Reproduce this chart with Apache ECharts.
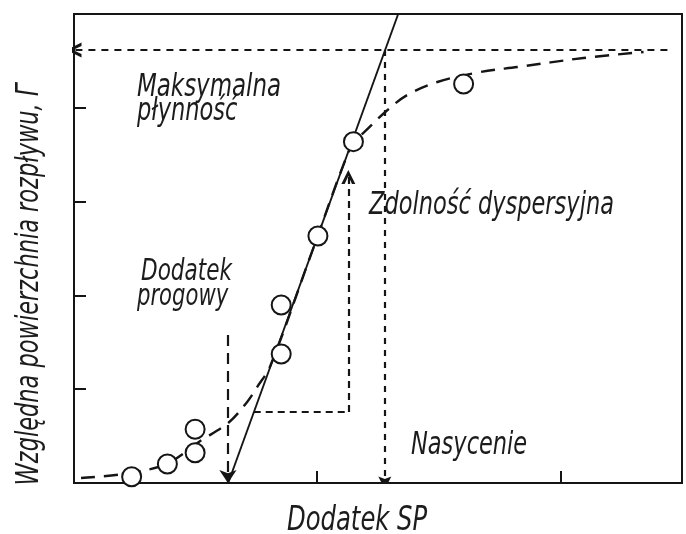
<!DOCTYPE html>
<html><head><meta charset="utf-8">
<script src="https://cdn.jsdelivr.net/npm/echarts@6/dist/echarts.min.js"></script>
<style>html,body{margin:0;padding:0;background:#fff}#c{width:686px;height:534px}</style>
</head><body><div id="c"></div>
<script>
// measured points (Dodatek SP, relative spread area)
const pointX = [0.237, 0.384, 0.498, 0.498, 0.852, 0.852, 1.003, 1.149, 1.602];
const pointY = [0.067, 0.203, 0.323, 0.573, 1.375, 1.898, 2.633, 3.639, 4.254];
// dashed fitted curve
const curveX = [0.029, 0.235, 0.387, 0.519, 0.634, 0.712, 0.753, 0.807, 0.980, 1.148, 1.189, 1.280, 1.370, 1.494, 1.671, 1.823, 2.095, 2.342];
const curveY = [0.053, 0.107, 0.213, 0.448, 0.640, 0.864, 1.023, 1.247, 2.475, 3.646, 3.731, 3.955, 4.136, 4.275, 4.382, 4.435, 4.531, 4.595];
// tangent (solid) line
const tangentX = [0.634, 1.333];
const tangentY = [0, 5];
// guide levels
const maxLevel = 4.616;      // maksymalna płynność
const saturationX = 1.278;   // nasycenie
const thresholdX = 0.633;    // dodatek progowy
const thresholdTop = 1.578;
const stepStart = [0.739, 0.757];
const stepCorner = [1.128, 0.757];
const stepTop = [1.128, 3.262];
const guideRightX = 2.44;
// texts
const xTitle = 'Dodatek SP';
const yTitle = 'Względna powierzchnia rozpływu, Γ';
const labels = ['Maksymalna', 'płynność', 'Zdolność dyspersyjna', 'Dodatek', 'progowy', 'Nasycenie'];

const FONT = '"Liberation Sans Narrow", "DejaVu Sans Condensed", "Arial Narrow", sans-serif';
const INK = '#151515';
const TXT = '#1c1c1c';
const SY = 1.28;
const chart = echarts.init(document.getElementById('c'), null, {renderer: 'canvas'});

const openArrow = 'path://M5,0 L10,14 L7.6,14 L5,6 L2.4,14 L0,14 Z';
const fillArrow = 'path://M5,0 L10,15 L5,12 L0,15 Z';

function seg(coords, dash, width, endSymbol, endSize) {
  return {
    type: 'lines', coordinateSystem: 'cartesian2d', z: 3,
    symbol: ['none', endSymbol || 'none'],
    symbolSize: [1, endSize || 10],
    lineStyle: {color: INK, width: width, type: dash, opacity: 1, cap: 'butt'},
    data: [{coords: coords}],
    silent: true
  };
}

function txt(text, x, y, size, align, rot) {
  return {
    type: 'text', x: x, y: y, silent: true, scaleY: SY, rotation: rot || 0,
    style: {text: text, font: 'italic ' + size + 'px ' + FONT, fill: TXT,
            textAlign: align || 'left', textVerticalAlign: 'middle', align: align || 'left', verticalAlign: 'middle'}
  };
}

const option = {
  animation: false,
  backgroundColor: '#fff',
  grid: {left: 74, right: 4, top: 14, bottom: 51, show: true, borderColor: INK, borderWidth: 2, backgroundColor: 'transparent'},
  xAxis: {
    type: 'value', min: 0, max: 2.5, interval: 1,
    axisLine: {show: true, lineStyle: {color: INK, width: 2}},
    axisTick: {show: true, inside: true, length: 12, lineStyle: {color: INK, width: 2}},
    axisLabel: {show: false}, splitLine: {show: false}
  },
  yAxis: {
    type: 'value', min: 0, max: 5, interval: 1,
    axisLine: {show: true, lineStyle: {color: INK, width: 2}},
    axisTick: {show: true, inside: true, length: 12, lineStyle: {color: INK, width: 2}},
    axisLabel: {show: false}, splitLine: {show: false}
  },
  series: [
    {
      type: 'line', z: 2, smooth: 0.35, symbol: 'none',
      lineStyle: {color: INK, width: 2.4, type: [14, 9]},
      data: curveX.map((x, i) => [x, curveY[i]])
    },
    {
      type: 'line', z: 2, symbol: 'none',
      lineStyle: {color: INK, width: 1.9, type: 'solid'},
      data: tangentX.map((x, i) => [x, tangentY[i]])
    },
    seg([[guideRightX, maxLevel], [0, maxLevel]], [7, 6], 2.2, openArrow, 15),
    seg([[saturationX, maxLevel], [saturationX, 0]], [6, 6], 2.2, fillArrow, 13),
    seg([[thresholdX, thresholdTop], [thresholdX, 0]], [11, 7], 2.2, 'arrow', 13),
    seg([stepStart, stepCorner], [7, 5], 2.2, 'none', 1),
    seg([stepCorner, stepTop], [7, 5], 2.2, openArrow, 14),
    {
      type: 'scatter', z: 5, symbol: 'circle', symbolSize: 19,
      itemStyle: {color: '#fff', borderColor: INK, borderWidth: 2, opacity: 1},
      data: pointX.map((x, i) => [x, pointY[i]])
    }
  ],
  graphic: [
    txt(labels[0], 137, 87.5, 25.5),
    txt(labels[1], 137, 112, 25),
    txt(labels[2], 369, 205.5, 25),
    txt(labels[3], 141, 272.5, 24),
    txt(labels[4], 137, 297.5, 23.5),
    txt(labels[5], 411, 445.5, 25),
    txt(xTitle, 287, 521.5, 27),
    txt(yTitle, 29.5, 284.5, 25, 'center', Math.PI / 2)
  ]
};
chart.setOption(option);
</script></body></html>
